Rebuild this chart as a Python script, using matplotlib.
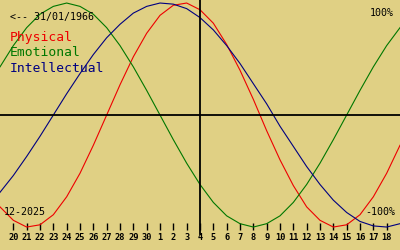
import matplotlib
matplotlib.use("Agg")
import matplotlib.pyplot as plt

# day offsets relative to the centre date (4 Dec 2025)
days = list(range(-15, 16))
physical = [-0.82, -0.94, -1.00, -0.98, -0.89, -0.73, -0.52, -0.27, 0.00, 0.27, 0.52,
            0.73, 0.89, 0.98, 1.00, 0.94, 0.82, 0.63, 0.40, 0.14, -0.14, -0.40, -0.63,
            -0.82, -0.94, -1.00, -0.98, -0.89, -0.73, -0.52, -0.27]
emotional = [0.43, 0.62, 0.78, 0.90, 0.97, 1.00, 0.97, 0.90, 0.78, 0.62, 0.43, 0.22,
             0.00, -0.22, -0.43, -0.62, -0.78, -0.90, -0.97, -1.00, -0.97, -0.90, -0.78,
             -0.62, -0.43, -0.22, 0.00, 0.22, 0.43, 0.62, 0.78]
intellectual = [-0.69, -0.54, -0.37, -0.19, 0.00, 0.19, 0.37, 0.54, 0.69, 0.81, 0.91,
                0.97, 1.00, 0.99, 0.95, 0.87, 0.76, 0.62, 0.46, 0.28, 0.10, -0.10, -0.28,
                -0.46, -0.62, -0.76, -0.87, -0.95, -0.99, -1.00, -0.97]
tick_days = list(range(-14, 15))
tick_labels = ["20", "21", "22", "23", "24", "25", "26", "27", "28", "29", "30",
               "1", "2", "3", "4", "5", "6", "7", "8", "9", "10", "11", "12", "13",
               "14", "15", "16", "17", "18"]
series_names = ["Physical", "Emotional", "Intellectual"]
birth_label = "<-- 31/01/1966"
month_label = "12-2025"

bg = "#e0d084"
colors = ["#ee0000", "#007700", "#000080"]
font = "DejaVu Sans Mono"

fig = plt.figure(figsize=(4, 2.5), dpi=100, facecolor=bg)
ax = fig.add_axes([0, 0, 1, 1], facecolor=bg)
ax.set_xlim(-15, 15)
ax.set_ylim(-1.205, 1.027)

for vals, c in zip([physical, emotional, intellectual], colors):
    ax.plot(days, vals, color=c, lw=0.8, solid_joinstyle="round")

ax.axhline(0, color="black", lw=1.3)
ax.axvline(0, ymin=(250 - 234) / 250, ymax=1, color="black", lw=1.3)

for s in ax.spines.values():
    s.set_visible(False)
ax.spines["bottom"].set_position(("axes", (250 - 223) / 250))
ax.set_xticks(tick_days)
ax.set_xticklabels(tick_labels, fontfamily=font, fontsize=6.2, fontweight="bold")
ax.tick_params(axis="x", direction="out", length=5, width=1.0, pad=2.5, colors="black")
ax.set_yticks([])


def px(x, y):
    return x / 400, 1 - y / 250


fig.text(*px(10, 17), birth_label, family=font, fontsize=7.2, va="center", ha="left")
for i, (name, c) in enumerate(zip(series_names, colors)):
    fig.text(*px(10, 38 + 15 * i), name, family=font, fontsize=9.4, color=c,
             va="center", ha="left")
fig.text(*px(394, 12.5), "100%", family=font, fontsize=7.2, va="center", ha="right")
fig.text(*px(4, 212), month_label, family=font, fontsize=7.2, va="center", ha="left")
fig.text(*px(395, 212), "-100%", family=font, fontsize=7.2, va="center", ha="right")

fig.savefig("out.png", dpi=100, facecolor=bg)
